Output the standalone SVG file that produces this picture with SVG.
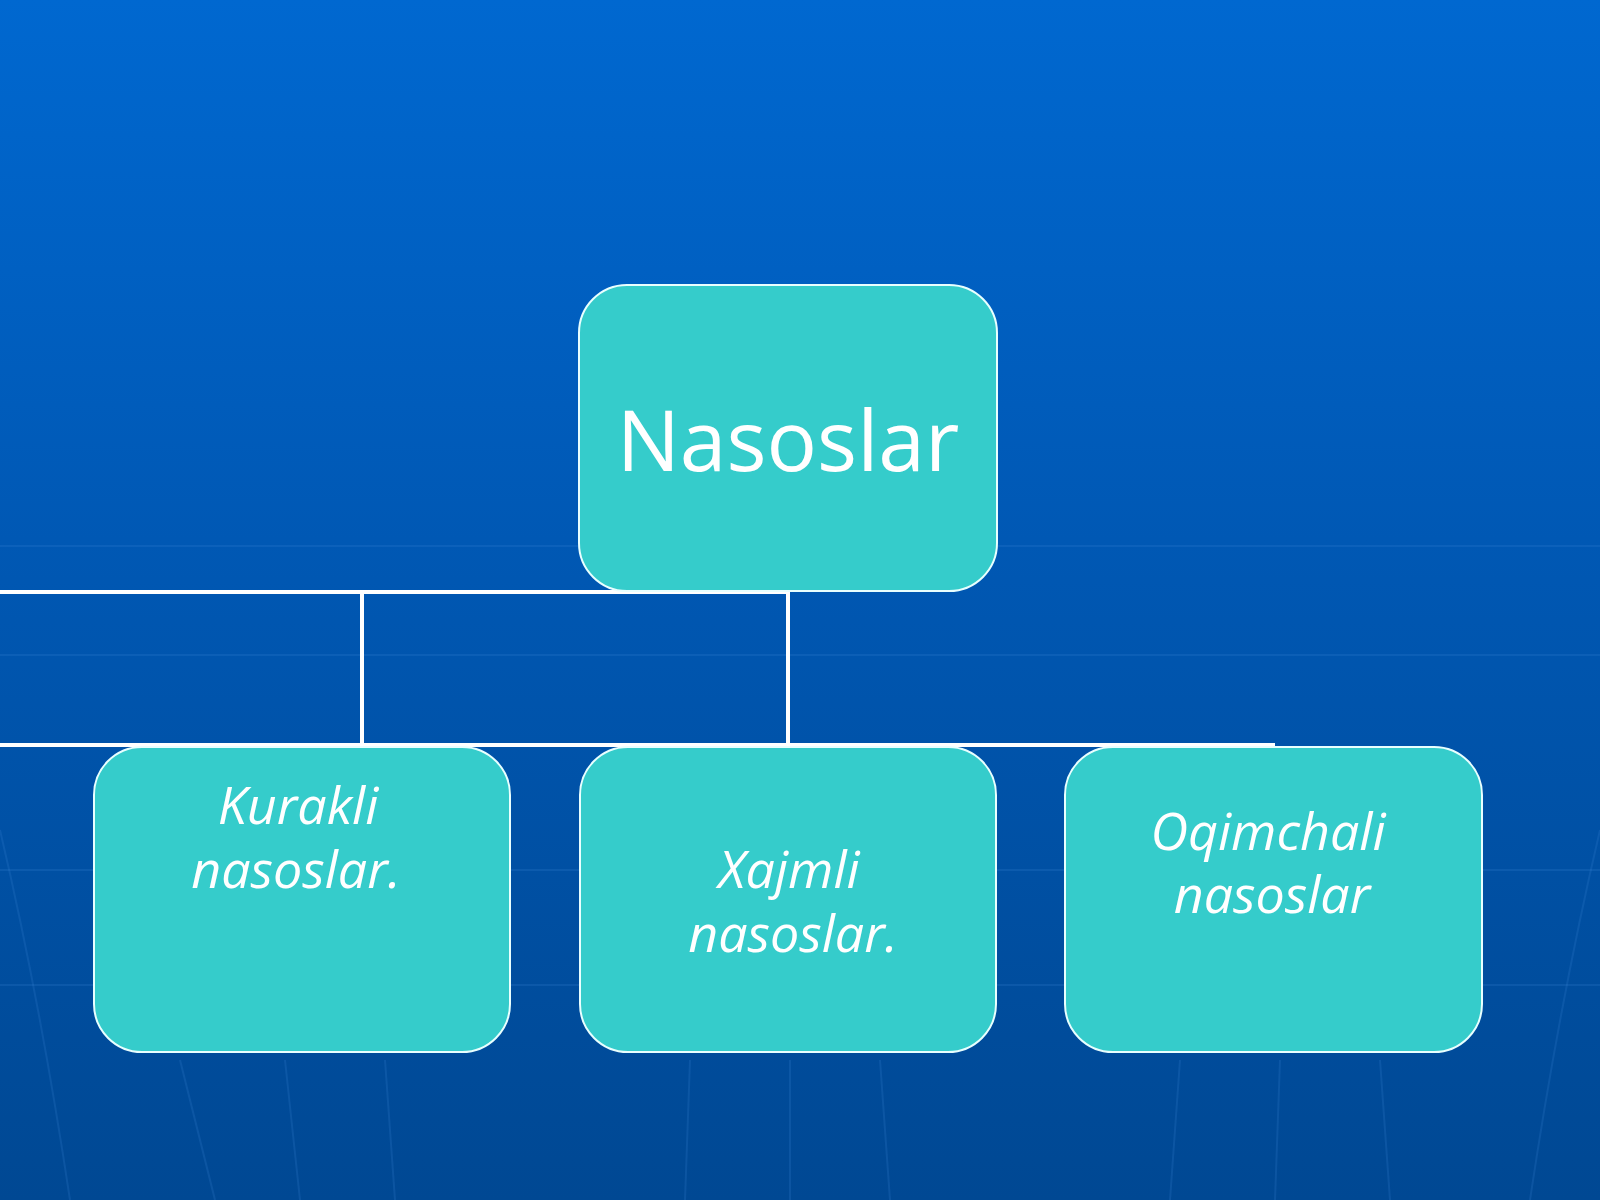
<svg xmlns="http://www.w3.org/2000/svg" width="1600" height="1200" viewBox="0 0 1600 1200">
<defs>
<linearGradient id="bg" x1="0" y1="0" x2="0" y2="1">
<stop offset="0" stop-color="#0068D0"/>
<stop offset="0.45" stop-color="#0058B4"/>
<stop offset="1" stop-color="#004893"/>
</linearGradient>
<style>
.node{fill:#35CCCB;stroke:#E8FFFF;stroke-width:2}
.conn{stroke:#FFFFFF;stroke-width:4;fill:none}
.faint{stroke:#3A86D8;stroke-width:2;fill:none;opacity:0.2}
.t{fill:#FFFFFF;font-family:"Open Sans","Noto Sans",sans-serif;text-anchor:middle}
.ti{font-style:italic;font-size:52px}
</style>
</defs>
<rect x="0" y="0" width="1600" height="1200" fill="url(#bg)"/>
<g id="background-lines">
<line class="faint" x1="0" y1="546" x2="1600" y2="546"/>
<line class="faint" x1="0" y1="655" x2="1600" y2="655"/>
<line class="faint" x1="0" y1="870" x2="1600" y2="870"/>
<line class="faint" x1="0" y1="985" x2="1600" y2="985"/>
<path class="faint" d="M0 830 Q40 1000 70 1200"/>
<path class="faint" d="M180 1060 L215 1200"/>
<path class="faint" d="M285 1060 L300 1200"/>
<path class="faint" d="M385 1060 L395 1200"/>
<path class="faint" d="M690 1060 L685 1200"/>
<path class="faint" d="M790 1060 L790 1200"/>
<path class="faint" d="M880 1060 L890 1200"/>
<path class="faint" d="M1180 1060 L1170 1200"/>
<path class="faint" d="M1280 1060 L1275 1200"/>
<path class="faint" d="M1380 1060 L1390 1200"/>
<path class="faint" d="M1600 830 Q1560 1000 1530 1200"/>
</g>
<g id="connectors">
<line class="conn" x1="0" y1="592" x2="790" y2="592"/>
<line class="conn" x1="362" y1="592" x2="362" y2="745"/>
<line class="conn" x1="788" y1="592" x2="788" y2="745"/>
<line class="conn" x1="0" y1="745" x2="1275" y2="745"/>
</g>
<g id="node-nasoslar">
<rect class="node" x="579" y="285" width="418" height="306" rx="48" ry="48"/>
<text class="t" x="788" y="471" font-size="84">Nasoslar</text>
</g>
<g id="node-kurakli">
<rect class="node" x="94" y="747" width="416" height="305" rx="48" ry="48"/>
<text class="t ti" x="298" y="824">Kurakli</text>
<text class="t ti" x="296" y="888">nasoslar.</text>
</g>
<g id="node-xajmli">
<rect class="node" x="580" y="747" width="416" height="305" rx="48" ry="48"/>
<text class="t ti" x="789" y="888">Xajmli</text>
<text class="t ti" x="793" y="952">nasoslar.</text>
</g>
<g id="node-oqimchali">
<rect class="node" x="1065" y="747" width="417" height="305" rx="48" ry="48"/>
<text class="t ti" x="1268" y="850">Oqimchali</text>
<text class="t ti" x="1272" y="913">nasoslar</text>
</g>
</svg>
